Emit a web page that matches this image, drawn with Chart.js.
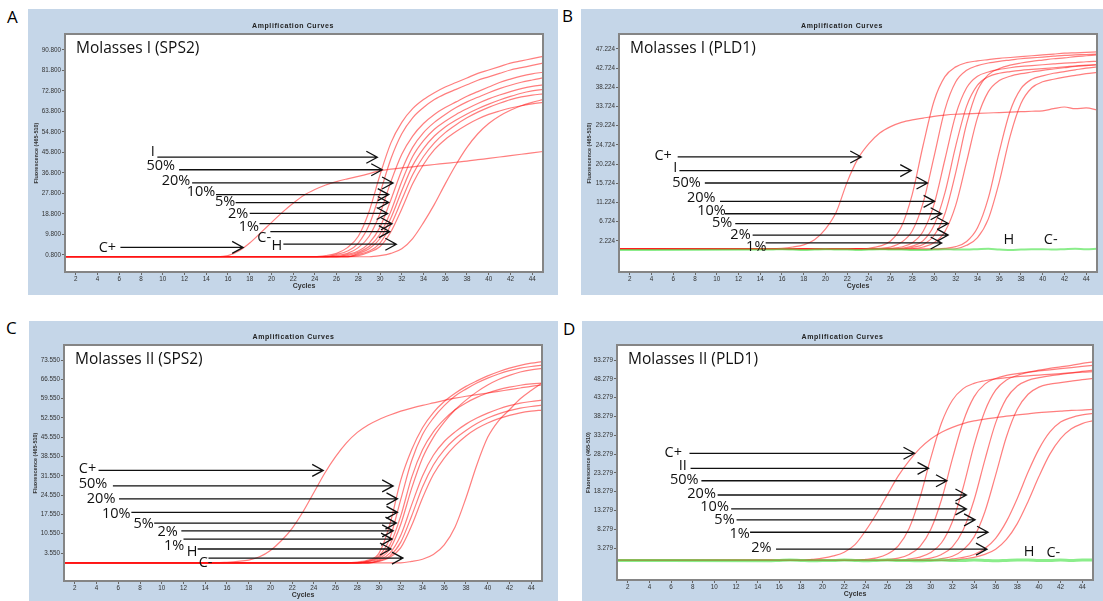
<!DOCTYPE html>
<html>
<head>
<meta charset="utf-8">
<script src="https://cdn.jsdelivr.net/npm/chart.js@4.4.1/dist/chart.umd.min.js"></script>
<style>
  body { margin: 0; width: 1103px; height: 601px; position: relative; overflow: hidden; background: #fff; font-family: 'Open Sans', sans-serif; }
  .panel { position: absolute; background: #c5d6e8; }
  .panel canvas { position: absolute; left: 0; top: 0; }
  .letter { position: absolute; font-size: 17px; line-height: 17px; color: #000; }
</style>
</head>
<body>
<div class="letter" style="left:7px;top:8px">A</div>
<div class="letter" style="left:562px;top:7px">B</div>
<div class="letter" style="left:6px;top:319px">C</div>
<div class="letter" style="left:563px;top:320px">D</div>

<div class="panel" style="left:28px;top:9px;width:530px;height:286px"><canvas id="chartA" width="530" height="286"></canvas></div>
<div class="panel" style="left:581px;top:9px;width:522px;height:286px"><canvas id="chartB" width="522" height="286"></canvas></div>
<div class="panel" style="left:29px;top:321px;width:529px;height:280px"><canvas id="chartC" width="529" height="280"></canvas></div>
<div class="panel" style="left:582px;top:321px;width:521px;height:280px"><canvas id="chartD" width="521" height="280"></canvas></div>

<script>
// cycle grid: cycle 1, then every cycle from 15 to 45
const cycles = [1, 15, 16, 17, 18, 19, 20, 21, 22, 23, 24, 25, 26, 27, 28, 29, 30,
                31, 32, 33, 34, 35, 36, 37, 38, 39, 40, 41, 42, 43, 44, 45];
const xTicks = [2, 4, 6, 8, 10, 12, 14, 16, 18, 20, 22, 24, 26, 28, 30, 32, 34, 36, 38, 40, 42, 44];

// ---------- A : Molasses I (SPS2) ----------
const yTicksA = [0.8, 9.8, 18.8, 27.8, 36.8, 45.8, 54.8, 63.8, 72.8, 81.8, 90.8];
const redA = [
  [0, 0,0.5,2.5,6,10.5,15,19.5,23.5,27,29.5,31.5,33,34.2,35.3,36.5,37.8,38.5,39,39.5,40,40.5,41,41.5,42,42.6,43.2,43.8,44.4,45,45.6,46.2],
  [0, 0,0,0,0,0,0,0,0,0,0, 0.5,1.5,4,9,20,36,50,59,65,69,72,74.5,76.5,78.5,80.5,82,83.5,85,86,87,88],
  [0, 0,0,0,0,0,0,0,0,0,0,0, 1,2.5,6,14,28,43,54,61,65.5,69,71.5,73.5,75.5,77.5,79,80.5,82,83,84,85],
  [0, 0,0,0,0,0,0,0,0,0,0,0, 0.5,1.5,4,9,19,33,45,53,58.5,62.5,65.5,68,70.5,72.5,74.5,76.5,78,79.3,80.3,81],
  [0, 0,0,0,0,0,0,0,0,0,0,0,0, 1,2.5,6,13,25,38,48,54.5,59,62.5,65.5,68,70,72,73.8,75.3,76.6,77.6,78.5],
  [0, 0,0,0,0,0,0,0,0,0,0,0,0, 0.5,2,4.5,10,20,33,44,51,56,59.5,62.5,65,67.3,69.3,71,72.5,73.8,74.8,75.5],
  [0, 0,0,0,0,0,0,0,0,0,0,0,0,0, 1.5,3.5,8,17,29,40,47.5,53,57,60,62.7,65,67,68.8,70.4,71.8,72.8,73.5],
  [0, 0,0,0,0,0,0,0,0,0,0,0,0,0, 1,2.5,6,14,25,36,44,50,54.5,58,61,63.5,65.6,67.4,69,70.2,71,71.5],
  [0, 0,0,0,0,0,0,0,0,0,0,0,0,0, 0.5,2,4.5,11,21,32,40.5,47,51.5,55,58,60.5,62.5,64,65.3,66.3,67.1,67.8],
  [0, 0,0,0,0,0,0,0,0,0,0,0,0,0,0,0, 0.5,1.5,3.5,8,15,23,32,40.5,48,54,58.5,61.8,64.3,66.3,67.8,69]
];
const greenA = [];
const labelsA = ['I', '50%', '20%', '10%', '5%', '2%', '1%', 'C-', 'H', 'C+'];
const labelXA = [8.9, 8.5, 9.9, 12.2, 14.8, 16.0, 17.0, 18.7, 20.0, 4.1];
const labelYA = [45.9, 39.8, 33.5, 28.5, 24.1, 18.7, 13.2, 8.4, 4.7, 4.1];
const arrowFromA = [9.5, 11.5, 12.7, 14.9, 16.7, 18.0, 18.9, 19.9, 21.1, 6.1];
const arrowToA = [29.75, 30.2, 31.2, 30.8, 30.8, 30.7, 31.1, 30.9, 31.5, 17.4];
const arrowYA = [43.7, 38.2, 32.4, 27.3, 23.8, 19.0, 14.5, 11.0, 5.5, 4.1];

// ---------- B : Molasses I (PLD1) ----------
const yTicksB = [2.224, 6.724, 11.224, 15.724, 20.224, 24.724, 29.224, 33.724, 38.224, 42.724, 47.224];
const redB = [
  [0.3, 0.4,0.5,0.8,1.3,2.5,5,9,16,21.5,25,27.5,29,30,30.6,31,31.4,31.7,31.9,32,32.1,32.2,32.3,32.4,32.5,32.6,32.7,33.2,33.6,33.2,33.4,32.9],
  [0.3, 0.3,0.3,0.3,0.3,0.3,0.3,0.3,0.3,0.3, 0.5,1,2.2,5.6,13.2,24.7,35,40.7,43,44,44.4,44.7,45,45.2,45.4,45.6,45.8,46,46.2,46.3,46.4,46.5],
  [0.3, 0.3,0.3,0.3,0.3,0.3,0.3,0.3,0.3,0.3,0.3, 0.5,0.8,1.9,4.6,11.2,22,33,39.5,42.2,43.3,43.9,44.3,44.6,44.9,45.1,45.3,45.5,45.7,45.8,45.9,46],
  [0.3, 0.3,0.3,0.3,0.3,0.3,0.3,0.3,0.3,0.3,0.3,0.3, 0.5,0.8,1.8,4.5,10.8,21.3,31.8,38.1,40.8,41.8,42.4,42.8,43.1,43.3,43.5,43.7,43.9,44,44.2,44.3],
  [0.3, 0.3,0.3,0.3,0.3,0.3,0.3,0.3,0.3,0.3,0.3,0.3,0.3, 0.5,1,2.3,5.9,13.5,24.5,33.8,38.7,40.7,41.5,41.9,42.2,42.4,42.6,42.8,43,43.2,43.4,43.5],
  [0.3, 0.3,0.3,0.3,0.3,0.3,0.3,0.3,0.3,0.3,0.3,0.3,0.3,0.3, 0.7,1.4,3.5,8.6,18.3,29.7,37.5,41.2,42.6,43.4,43.9,44.3,44.6,44.9,45.1,45.4,45.6,45.8],
  [0.3, 0.3,0.3,0.3,0.3,0.3,0.3,0.3,0.3,0.3,0.3,0.3,0.3,0.3, 0.4,0.8,1.8,4.4,10.6,20.8,31.1,37.2,39.8,40.8,41.4,41.8,42.2,42.5,42.8,43.1,43.3,43.5],
  [0.3, 0.3,0.3,0.3,0.3,0.3,0.3,0.3,0.3,0.3,0.3,0.3,0.3,0.3,0.3,0.3,0.3, 0.5,0.9,2.1,5.3,12.3,23.1,32.6,37.9,40.1,40.9,41.5,41.9,42.3,42.7,43],
  [0.3, 0.3,0.3,0.3,0.3,0.3,0.3,0.3,0.3,0.3,0.3,0.3,0.3,0.3,0.3,0.3,0.3,0.3, 0.4,1.2,3,7.4,16,26.7,34.4,38.1,39.5,40.1,40.6,41,41.4,41.7]
];
const greenB = [
  [0.1, 0.2,0.3,0.2,0.1,0.2,0.3,0.2,0.2,0.1,0.2,0.3,0.2,0.2,0.1,0.1,0.2,0.3,0.2,0.2,0.3,0.4,0.2,0.1,0.2,0.3,0.3,0.2,0.3,0.4,0.3,0.4]
];
const labelsB = ['C+', 'I', '50%', '20%', '10%', '5%', '2%', '1%', 'H', 'C-'];
const labelXB = [4.26, 6.0, 5.9, 7.25, 8.2, 9.55, 11.25, 12.7, 36.4, 40.1];
const labelYB = [22.1, 19.4, 15.8, 12.3, 9.3, 6.4, 3.7, 0.8, 2.4, 2.4];
const arrowFromB = [6.4, 6.56, 8.9, 10.3, 10.76, 11.7, 13.3, 14.5, null, null];
const arrowToB = [23.3, 27.9, 29.4, 30.05, 30.7, 31.3, 31.3, 30.7, null, null];
const arrowYB = [21.9, 18.7, 15.8, 11.5, 8.6, 6.3, 3.6, 1.75, null, null];

// ---------- C : Molasses II (SPS2) ----------
const yTicksC = [3.55, 10.55, 17.55, 24.55, 31.55, 38.55, 45.55, 52.55, 59.55, 66.55, 73.55];
const redC = [
  [0, 0,0.2,0.5,1,2.2,4.5,8,12.5,18.5,25.5,32.5,38.5,43.5,47.3,50,52,53.6,55,56.1,57.1,58,58.9,59.7,60.4,61,61.6,62.2,62.8,63.4,64,64.5],
  [0, 0,0,0,0,0,0,0,0,0,0,0,0,0, 0.3,1,3.5,14,30,41,49,54.5,58.5,61.5,64,66,67.8,69.3,70.6,71.6,72.4,73],
  [0, 0,0,0,0,0,0,0,0,0,0,0,0,0,0, 0.7,2.5,9,23,37,46.5,52.5,57,60.5,63,65.2,67,68.5,69.7,70.6,71.2,71.7],
  [0, 0,0,0,0,0,0,0,0,0,0,0,0,0,0, 0.5,2,6.5,17,31,41,47.5,52,55.5,58,60,61.6,62.8,63.7,64.4,64.9,65.2],
  [0, 0,0,0,0,0,0,0,0,0,0,0,0,0,0, 0.4,1.5,5,14,27,38,45.5,51,55.5,59,62,64.5,66.5,68,69.2,70,70.5],
  [0, 0,0,0,0,0,0,0,0,0,0,0,0,0,0,0, 1,3.5,10,21,31.5,39,44,47.5,50.3,52.5,54.3,55.8,57,57.9,58.5,59],
  [0, 0,0,0,0,0,0,0,0,0,0,0,0,0,0,0, 0.7,2.5,7.5,17,27.5,35.5,41,45,48,50.5,52.5,54,55.2,56.1,56.7,57.2],
  [0, 0,0,0,0,0,0,0,0,0,0,0,0,0,0,0, 0.5,2,5.5,13.5,23.5,32,38,42.5,46,48.7,50.7,52.3,53.5,54.4,55,55.4],
  [0, 0,0,0,0,0,0,0,0,0,0,0,0,0,0,0,0,0,0, 0.5,1.3,3,6.5,13,23.5,35.5,45.5,51.5,55.5,59.5,62.5,65.2]
];
const greenC = [];
const labelsC = ['C+', '50%', '20%', '10%', '5%', '2%', '1%', 'H', 'C-'];
const labelXC = [2.36, 2.36, 3.1, 4.5, 7.4, 9.6, 10.2, 12.3, 13.4];
const labelYC = [34, 28.5, 23.1, 17.8, 14.2, 11.2, 6, 3.8, -0.1];
const arrowFromC = [4.18, 5.5, 6.06, 7.2, 9.3, 11.8, 12.0, 13.3, 14.3];
const arrowToC = [24.86, 31.3, 31.7, 31.7, 31.6, 31.3, 31.2, 31.1, 32.2];
const arrowYC = [33.5, 27.9, 23.2, 18.3, 14.4, 11.6, 8.6, 5.0, 1.7];

// ---------- D : Molasses II (PLD1) ----------
const yTicksD = [3.279, 8.279, 13.279, 18.279, 23.279, 28.279, 33.279, 38.279, 43.279, 48.279, 53.279];
const redD = [
  [0, 0,0,0,0,0.3,0.6,1.2,2.2,4.2,8,12.5,17.5,22.5,26.5,29.8,32.3,34.1,35.4,36.4,37.1,37.6,38,38.4,38.7,39,39.3,39.5,39.7,39.9,40,40.2],
  [0, 0,0,0,0,0,0,0,0,0, 0.3,0.7,1.7,3.9,8.5,16.7,27.2,36.6,42.6,45.7,47.1,47.8,48.3,48.6,48.9,49.1,49.3,49.5,49.7,49.9,50.1,50.2],
  [0, 0,0,0,0,0,0,0,0,0,0,0, 0.3,0.6,1.6,3.7,8.2,16.2,27,36.9,43.5,46.9,48.4,49.2,49.7,50.1,50.4,50.7,51,51.3,51.6,51.9],
  [0, 0,0,0,0,0,0,0,0,0,0,0,0,0, 0.4,0.9,2.1,4.7,10.3,19.4,30.6,39.7,45.3,48,49.2,50,50.6,51.1,51.5,51.9,52.4,52.8],
  [0, 0,0,0,0,0,0,0,0,0,0,0,0,0,0, 0.3,0.6,1.6,3.6,8.1,16,26.7,36.6,43.1,46.4,47.9,48.6,49.1,49.5,49.9,50.3,50.6],
  [0, 0,0,0,0,0,0,0,0,0,0,0,0,0,0,0,0, 0.5,1.1,2.8,6.2,12.9,22.7,32.9,40.2,44.2,46.1,46.9,47.3,47.7,48.1,48.4],
  [0, 0,0,0,0,0,0,0,0,0,0,0,0,0,0,0,0,0, 0.4,0.8,1.6,3.2,5.9,10.4,16.5,23.5,29.6,34.1,36.8,38,38.7,39.1],
  [0, 0,0,0,0,0,0,0,0,0,0,0,0,0,0,0,0,0,0, 0.4,0.8,1.6,3,5.6,9.8,15.7,22.3,28.2,32.4,35,36.4,37.2]
];
const greenD = [
  [0, -0.1,0,0.1,0,-0.1,0,0,0.1,0,-0.1,0,0.1,0,0,-0.1,0,0.1,0,0,0.1,0,-0.1,0,0.1,0.1,0,0,0.1,0,0.1,0.1]
];
const labelsD = ['C+', 'II', '50%', '20%', '10%', '5%', '1%', '2%', 'H', 'C-'];
const labelXD = [5.4, 6.7, 5.9, 7.5, 8.7, 10.0, 11.4, 13.4, 38.6, 40.7];
const labelYD = [28.5, 25.2, 21.4, 17.7, 14.2, 10.8, 7.0, 3.3, 2.4, 2.1];
const arrowFromD = [7.7, 7.8, 8.8, 10.3, 11.55, 12.05, 13.3, 15.7, null, null];
const arrowToD = [28.5, 29.8, 31.5, 33.3, 33.3, 34.1, 35.3, 35.2, null, null];
const arrowYD = [28.5, 24.5, 21.2, 17.4, 13.7, 10.8, 7.5, 3.0, null, null];

// ---------- drawing ----------
const RED = 'rgba(255, 20, 20, 0.55)';
const GREEN = 'rgba(90, 230, 90, 0.7)';
const TICK_FONT = { family: 'Liberation Sans', size: 6.3 };

function toPoints(values) {
  return cycles.map((c, i) => ({ x: c, y: values[i] }));
}

// white plot area, arrows, labels, frame and header text
const panelPlugin = {
  id: 'panelDecor',
  beforeDraw(chart) {
    const a = chart.chartArea, ctx = chart.ctx;
    ctx.save();
    ctx.fillStyle = '#fff';
    ctx.fillRect(a.left, a.top, a.right - a.left, a.bottom - a.top);
    ctx.restore();
  },
  afterDatasetsDraw(chart, args, opts) {
    const ctx = chart.ctx, xs = chart.scales.x, ys = chart.scales.y, a = chart.chartArea;
    ctx.save();
    ctx.strokeStyle = '#111';
    ctx.lineWidth = 1.3;
    opts.labels.forEach((txt, i) => {
      if (opts.from[i] == null) return;
      const x0 = xs.getPixelForValue(opts.from[i]);
      const x1 = xs.getPixelForValue(opts.to[i]);
      const y = ys.getPixelForValue(opts.arrowY[i]);
      ctx.beginPath();
      ctx.moveTo(x0, y);
      ctx.lineTo(x1, y);
      ctx.moveTo(x1 - 11, y - 6);
      ctx.lineTo(x1, y);
      ctx.lineTo(x1 - 11, y + 6);
      ctx.stroke();
    });
    ctx.fillStyle = '#111';
    ctx.font = '14.5px "Open Sans"';
    ctx.textBaseline = 'middle';
    ctx.textAlign = 'left';
    opts.labels.forEach((txt, i) => {
      ctx.fillText(txt, xs.getPixelForValue(opts.lx[i]), ys.getPixelForValue(opts.ly[i]));
    });
    ctx.font = '15.5px "Open Sans"';
    ctx.fillText(opts.name, a.left + 11, a.top + 15);
    ctx.restore();
  },
  afterDraw(chart, args, opts) {
    const a = chart.chartArea, ctx = chart.ctx;
    ctx.save();
    ctx.strokeStyle = '#858585';
    ctx.lineWidth = 2;
    ctx.strokeRect(a.left, a.top, a.right - a.left, a.bottom - a.top);
    ctx.fillStyle = '#222';
    ctx.font = 'bold 7px "Liberation Sans"';
    ctx.letterSpacing = '0.6px';
    ctx.textAlign = 'center';
    ctx.textBaseline = 'middle';
    ctx.fillText('Amplification Curves', chart.width / 2, opts.headY);
    ctx.restore();
  }
};

function makePanel(canvasId, p, L) {
  const datasets = [];
  p.green.forEach(g => datasets.push({ data: toPoints(g), borderColor: GREEN, borderWidth: L.greenW }));
  p.red.forEach(r => datasets.push({ data: toPoints(r), borderColor: RED, borderWidth: 1.2 }));

  return new Chart(document.getElementById(canvasId), {
    type: 'line',
    data: { datasets },
    plugins: [panelPlugin],
    options: {
      responsive: false,
      animation: false,
      devicePixelRatio: 1,
      layout: { padding: { top: L.top, right: L.right, left: 0, bottom: 0 } },
      elements: { point: { radius: 0 }, line: { cubicInterpolationMode: 'monotone' } },
      plugins: {
        legend: { display: false },
        tooltip: { enabled: false },
        panelDecor: {
          name: p.name, labels: p.labels, lx: p.lx, ly: p.ly,
          from: p.from, to: p.to, arrowY: p.arrowY, headY: L.headY
        }
      },
      scales: {
        x: {
          type: 'linear', min: 1, max: 45,
          afterBuildTicks: s => { s.ticks = xTicks.map(v => ({ value: v })); },
          afterFit: s => { s.height = L.xh; },
          border: { display: false },
          grid: { drawOnChartArea: false, tickLength: 3, color: '#666' },
          ticks: { autoSkip: false, maxRotation: 0, padding: 0, color: '#333', font: TICK_FONT },
          title: {
            display: true, text: 'Cycles', color: '#333',
            font: { family: 'Liberation Sans', size: 7, weight: 'bold' },
            padding: { top: 0, bottom: L.xtb }
          }
        },
        y: {
          min: p.yMin, max: p.yMax,
          afterBuildTicks: s => { s.ticks = p.yTicks.map(v => ({ value: v })); },
          afterFit: s => { s.width = L.yw; },
          border: { display: false },
          grid: { drawOnChartArea: false, tickLength: 3, color: '#666' },
          ticks: { padding: 1, color: '#333', font: TICK_FONT, callback: v => v.toFixed(3) },
          title: {
            display: true, text: 'Fluorescence (465-510)', color: '#333',
            font: { family: 'Liberation Sans', size: 5.5, weight: 'bold' },
            padding: { top: L.ytp, bottom: 0 }
          }
        }
      }
    }
  });
}

makePanel('chartA', {
  name: 'Molasses I (SPS2)', red: redA, green: greenA, yTicks: yTicksA, yMin: -6.7, yMax: 97.8,
  labels: labelsA, lx: labelXA, ly: labelYA, from: arrowFromA, to: arrowToA, arrowY: arrowYA
}, { top: 25, right: 15, yw: 37, xh: 23, xtb: 5, headY: 17, greenW: 2, ytp: 5 });

makePanel('chartB', {
  name: 'Molasses I (PLD1)', red: redB, green: greenB, yTicks: yTicksB, yMin: -5.05, yMax: 50.7,
  labels: labelsB, lx: labelXB, ly: labelYB, from: arrowFromB, to: arrowToB, arrowY: arrowYB
}, { top: 25, right: 6, yw: 38, xh: 23, xtb: 5, headY: 17, greenW: 2, ytp: 5 });

makePanel('chartC', {
  name: 'Molasses II (SPS2)', red: redC, green: greenC, yTicks: yTicksC, yMin: -6.6, yMax: 79.0,
  labels: labelsC, lx: labelXC, ly: labelYC, from: arrowFromC, to: arrowToC, arrowY: arrowYC
}, { top: 24, right: 16, yw: 35, xh: 20, xtb: 2, headY: 16, greenW: 2, ytp: 3 });

makePanel('chartD', {
  name: 'Molasses II (PLD1)', red: redD, green: greenD, yTicks: yTicksD, yMin: -5.2, yMax: 57.3,
  labels: labelsD, lx: labelXD, ly: labelYD, from: arrowFromD, to: arrowToD, arrowY: arrowYD
}, { top: 24, right: 10, yw: 35, xh: 21, xtb: 3, headY: 16, greenW: 3, ytp: 3 });
</script>
</body>
</html>
